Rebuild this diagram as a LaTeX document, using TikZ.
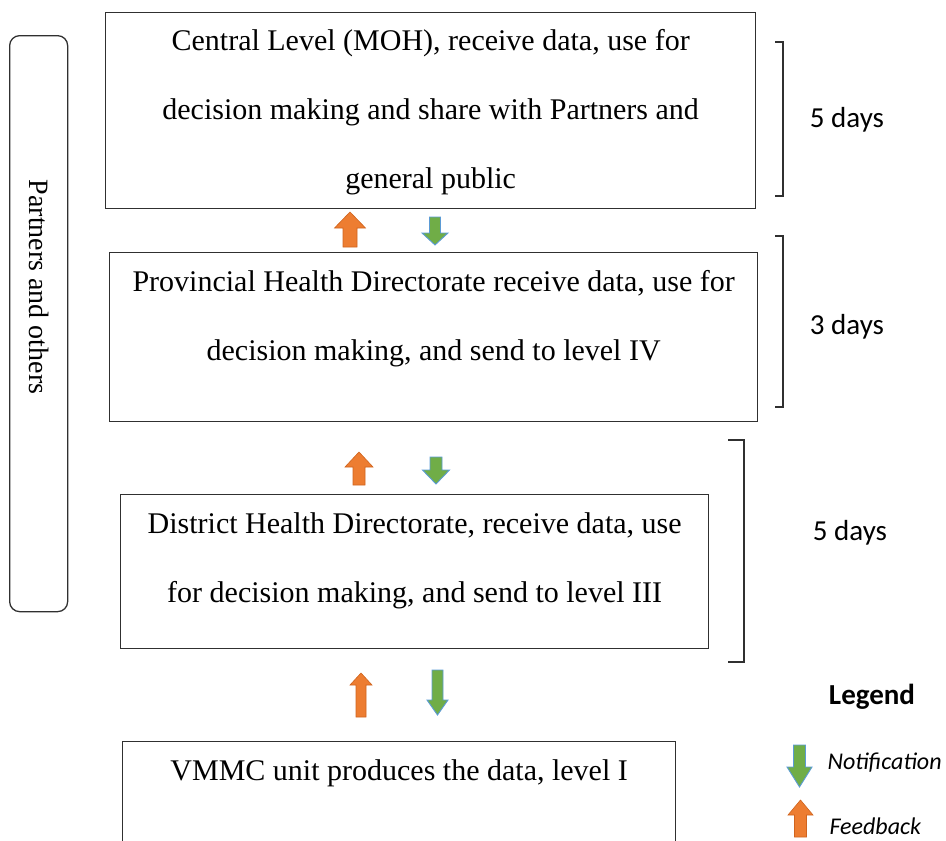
\documentclass[tikz,border=0pt]{standalone}
\usepackage{fontspec}
\setmainfont{Liberation Serif}
\newfontfamily\calibri{Carlito}
\usepackage{xcolor}
\usetikzlibrary{positioning,calc}

\definecolor{fbOrange}{HTML}{ED7D31}
\definecolor{fbEdge}{HTML}{D0641E}
\definecolor{ntGreen}{HTML}{70AD47}
\definecolor{ntBlue}{HTML}{5B9BD5}
\definecolor{lineGray}{HTML}{303030}

% block arrows: style, x, tip y, length, head half width, shaft half width, head length
\newcommand{\uparrowshape}[7]{%
  \filldraw[#1] (#2,#3) -- ({#2+#5},{#3+#7}) -- ({#2+#6},{#3+#7}) -- ({#2+#6},{#3+#4})
    -- ({#2-#6},{#3+#4}) -- ({#2-#6},{#3+#7}) -- ({#2-#5},{#3+#7}) -- cycle;}
\newcommand{\downarrowshape}[7]{%
  \filldraw[#1] (#2,#3) -- ({#2+#5},{#3-#7}) -- ({#2+#6},{#3-#7}) -- ({#2+#6},{#3-#4})
    -- ({#2-#6},{#3-#4}) -- ({#2-#6},{#3-#7}) -- ({#2-#5},{#3-#7}) -- cycle;}

\begin{document}
\begin{tikzpicture}[
    x=1pt, y=-1pt,
    levelbox/.style={draw=lineGray, line width=1.3pt, rectangle, anchor=north west, inner sep=0pt},
    leveltext/.style={align=center, font=\rmfamily\fontsize{30}{69}\selectfont, inner sep=0pt},
    daystext/.style={font=\calibri\fontsize{29}{34}\selectfont},
    legendtext/.style={font=\calibri\itshape\fontsize{24}{28}\selectfont, anchor=west},
    bracket/.style={draw=lineGray, line width=1.1pt},
    feedback/.style={fill=fbOrange, draw=fbEdge, line width=0.6pt},
    notification/.style={fill=ntGreen, draw=ntBlue, line width=0.9pt}
]
\useasboundingbox (0,0) rectangle (946,841);
\clip (0,0) rectangle (946,841);

% Levels
\node[levelbox, minimum width=650, minimum height=196] (central) at (105,12) {};
\node[levelbox, minimum width=648, minimum height=169] (provincial) at (109,252) {};
\node[levelbox, minimum width=588, minimum height=154] (district) at (120,494) {};
\node[levelbox, minimum width=553, minimum height=150] (vmmc) at (122,741) {};

\node[leveltext] (centraltxt) at ($(central.north)+(0,100)$)
  {Central Level (MOH), receive data, use for\\decision making and share with Partners and\\general public};
\node[leveltext] (provtxt) at ($(provincial.north)+(0,67)$)
  {Provincial Health Directorate receive data, use for\\decision making, and send to level IV};
\node[leveltext] (disttxt) at ($(district.north)+(0,67)$)
  {District Health Directorate, receive data, use\\for decision making, and send to level III};
\node[leveltext] (vmmctxt) at ($(vmmc.north)+(0,32)$)
  {VMMC unit produces the data, level I};

% Partners
\node[draw=lineGray, line width=1.3pt, rounded corners=10pt, minimum width=58, minimum height=576,
      anchor=north west] (partners) at (9,35) {};
\node[rotate=-90, font=\rmfamily\fontsize{28}{30}\selectfont] (partnerstxt) at ($(partners.north)+(0,252)$) {Partners and others};

% Time brackets
\coordinate (b1a) at (775,42);  \coordinate (b1b) at (775,196);
\coordinate (b2a) at (775,236); \coordinate (b2b) at (775,407);
\coordinate (b3a) at (728,440); \coordinate (b3b) at (728,662);
\draw[bracket] (b1a) -- ++(8,0) |- (b1b);
\draw[bracket] (b2a) -- ++(8,0) |- (b2b);
\draw[bracket] (b3a) -- ++(16,0) |- (b3b);
\node[daystext] (days1) at (847,120) {5 days};
\node[daystext] (days2) at (847,327) {3 days};
\node[daystext] (days3) at (850,533) {5 days};

% Feedback / notification arrows
\uparrowshape{feedback}{350}{212}{35}{15.5}{7}{16}
\downarrowshape{notification}{435}{245}{28}{13}{5.5}{12}
\uparrowshape{feedback}{359}{452}{33}{14}{6}{15}
\downarrowshape{notification}{436}{484}{27}{13.5}{6}{14}
\uparrowshape{feedback}{361}{673}{44}{11}{5}{12}
\downarrowshape{notification}{437.5}{715}{45}{10.5}{5.5}{15}

% Legend
\node[font=\calibri\bfseries\fontsize{29}{34}\selectfont] (legend) at (872,697) {Legend};
\downarrowshape{notification}{799.5}{787}{42}{12.5}{6}{20}
\uparrowshape{feedback}{800.5}{800}{37}{12.5}{6}{15}
\node[legendtext] (notif) at (824,763) {Notification};
\node[legendtext] (feed) at (826,826) {Feedback};

\end{tikzpicture}
\end{document}
